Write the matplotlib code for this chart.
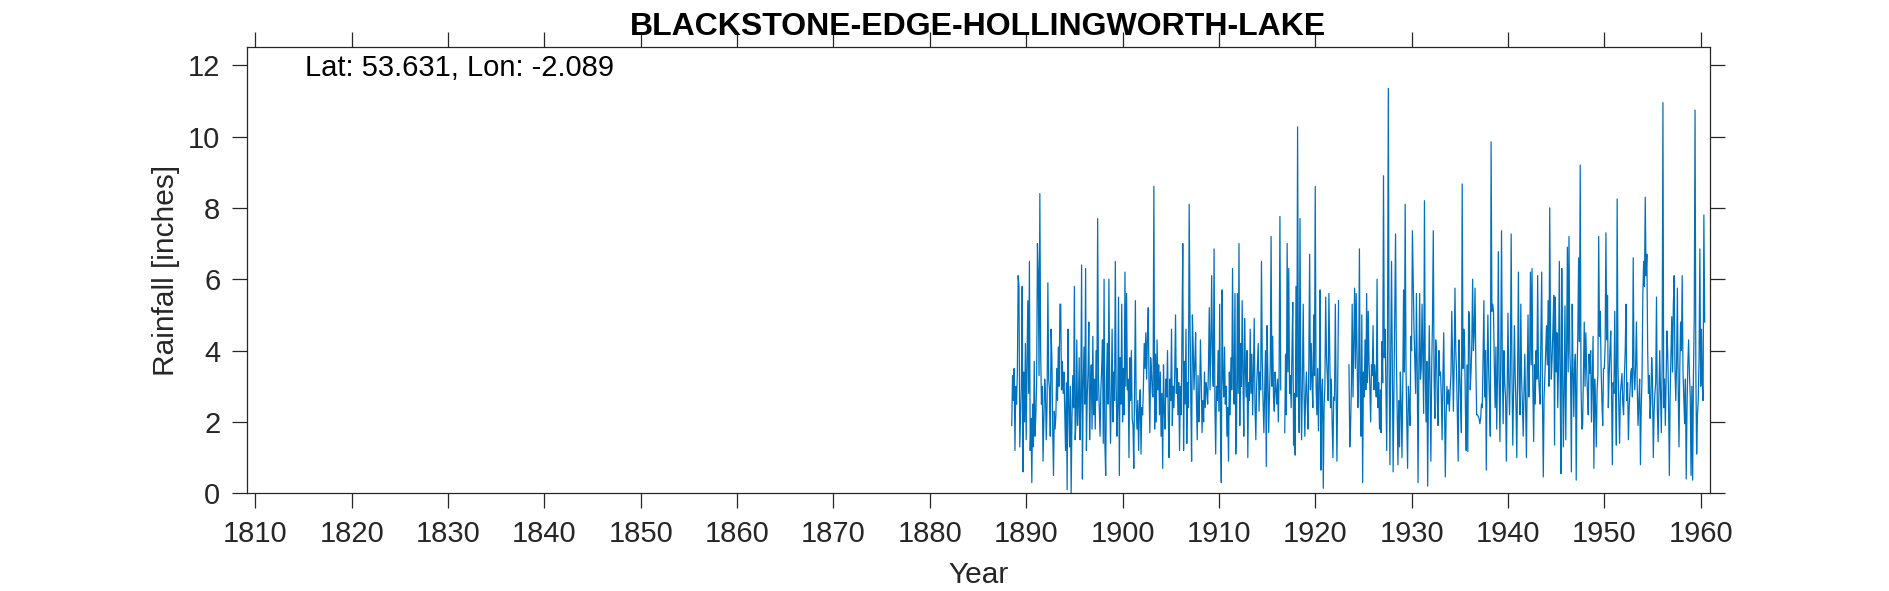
import numpy as np
import matplotlib
matplotlib.use("Agg")
import matplotlib.pyplot as plt

nan = np.nan

# monthly rainfall [inches], first value is July 1888
start_year = 1888
start_month = 7

rain_1888_1899 = [
    1.9, 3.3, 2.6, 3.5, 1.2, 3.0,
    2.5, 3.4, 6.1, 5.8, 1.3, 2.2, 3.0, 5.8, 0.6, 3.4, 2.0, 4.2,
    1.5, 3.6, 5.4, 2.8, 6.5, 1.2, 2.1, 0.3, 2.5, 1.3, 3.7, 1.6,
    2.2, 3.1, 7.0, 6.2, 3.3, 8.4, 4.0, 2.5, 3.0, 0.9, 2.1, 3.2,
    2.8, 1.5, 2.5, 5.9, 3.2, 2.9, 1.6, 4.6, 3.8, 1.8, 0.5, 2.3,
    1.8, 2.2, 3.5, 2.6, 4.1, 3.0, 5.3, 5.3, 2.9, 3.7, 2.8, 3.4,
    2.3, 1.2, 3.1, 0.1, 4.6, 2.5, 1.3, 3.0, 0.0, 2.1, 3.3, 2.4,
    5.8, 1.5, 2.0, 4.3, 1.9, 2.5, 3.8, 1.5, 2.6, 6.4, 0.4, 3.0,
    4.1, 2.5, 6.3, 1.2, 2.7, 3.4, 4.8, 1.5, 2.9, 3.6, 1.8, 4.4,
    2.2, 3.2, 1.8, 4.0, 2.6, 7.7, 3.2, 2.4, 1.6, 2.9, 3.5, 4.3,
    1.4, 6.0, 1.4, 0.5, 3.2, 4.2, 2.5, 6.0, 3.0, 1.4, 2.8, 4.6,
    2.0, 3.4, 2.6, 6.5, 3.1, 1.6, 2.4, 5.5, 0.5, 3.8, 2.5, 5.3,
]

rain_1900s = [
    2.0, 3.5, 2.2, 6.2, 3.0, 5.6, 2.9, 3.2, 1.0, 3.8, 2.6, 4.0,
    2.1, 1.9, 0.7, 3.0, 5.4, 2.4, 1.8, 2.6, 1.2, 2.4, 2.9, 1.1,
    2.4, 2.2, 3.0, 4.2, 3.5, 4.5, 3.2, 4.4, 5.2, 3.0, 1.7, 3.8,
    3.4, 2.8, 2.7, 8.6, 1.8, 3.9, 2.0, 4.3, 2.9, 3.6, 2.2, 3.4,
    1.6, 2.8, 0.7, 3.6, 2.3, 1.8, 3.2, 2.7, 4.0, 2.1, 1.0, 3.2,
    2.6, 4.6, 1.9, 3.0, 2.4, 3.4, 5.0, 2.8, 3.5, 2.2, 3.1, 1.2,
    3.0, 2.2, 4.4, 7.0, 1.2, 3.7, 2.5, 4.6, 1.4, 3.1, 2.4, 8.1,
    4.9, 2.6, 0.9, 5.0, 4.1, 2.9, 3.6, 4.5, 2.6, 1.5, 3.3, 2.0,
    2.7, 4.3, 3.2, 1.7, 2.6, 2.0, 3.4, 2.4, 3.1, 2.9, 2.5, 3.5,
    5.2, 2.9, 4.2, 6.1, 3.6, 3.0, 6.85, 2.5, 1.1, 3.0, 2.6, 4.0,
]

rain_1910s = [
    2.3, 5.3, 1.8, 0.3, 5.7, 3.3, 2.7, 4.1, 2.5, 3.0, 1.6, 2.4,
    0.9, 3.4, 2.2, 3.8, 2.9, 6.3, 3.2, 2.5, 5.6, 1.1, 1.9, 5.6,
    2.8, 7.0, 1.9, 4.2, 3.0, 5.4, 3.3, 1.6, 4.9, 3.5, 2.7, 4.0,
    1.0, 3.1, 2.6, 4.6, 2.8, 3.9, 2.2, 3.4, 4.9, 2.4, 1.5, 3.0,
    3.6, 4.2, 2.3, 3.4, 2.9, 6.5, 3.8, 2.6, 1.7, 2.9, 4.0, 0.75,
    4.7, 3.3, 1.7, 2.8, 3.6, 7.2, 3.0, 4.4, 2.7, 2.3, 3.4, 2.9,
    2.5, 3.2, 2.0, 3.4, 7.76, 2.9, nan, nan, nan, nan, 1.7, 3.9,
    2.2, 7.0, 3.4, 6.3, 2.8, 3.3, 2.4, 4.0, 5.35, 1.35, 2.8, 1.07,
    5.8, 2.7, 10.27, 3.4, 1.7, 7.7, 3.0, 1.5, 3.2, 5.3, 2.9, 1.6,
    2.8, 3.4, 2.5, 1.8, 3.7, 6.7, 2.9, 4.2, 3.1, 2.4, 5.0, 3.3,
]

rain_1920s = [
    8.6, 3.0, 2.2, 3.5, 1.75, 3.1, 5.7, 0.65, 2.7, 3.2, 0.14, 2.4,
    3.0, 5.5, 3.8, 3.3, 2.6, 5.6, 4.1, 2.4, 3.2, 2.0, 1.0, 2.7,
    2.6, 5.3, 2.8, 0.9, 3.1, 5.4, nan, nan, nan, nan, nan, nan,
    nan, nan, nan, nan, nan, nan, 3.6, 1.3, 1.9, 3.0, 5.3, 2.7,
    4.2, 5.75, 3.5, 5.6, 4.0, 2.4, 3.2, 6.85, 2.8, 1.6, 5.0, 0.3,
    3.4, 2.7, 4.3, 2.9, 5.6, 3.1, 5.1, 3.6, 3.0, 2.0, 3.6, 3.3,
    4.7, 2.9, 3.6, 3.2, 2.7, 6.0, 2.4, 3.1, 1.8, 2.9, 1.7, 4.25,
    3.1, 8.9, 3.8, 4.6, 3.0, 1.2, 4.4, 11.35, 3.5, 0.8, 3.9, 6.5,
    3.6, 0.6, 2.9, 5.3, 7.27, 3.9, 2.4, 0.8, 2.6, 1.3, 3.4, 2.5,
    1.0, 3.1, 5.7, 3.4, 8.1, 3.6, 2.0, 0.7, 3.0, 2.5, 1.9, 4.4,
]

rain_1930s = [
    4.0, 7.36, 6.05, 4.6, 3.7, 2.8, 5.6, 3.5, 0.3, 3.4, 5.6, 3.2,
    3.5, 5.3, 3.8, 2.24, 8.2, 3.4, 2.0, 3.7, 0.2, 2.9, 4.7, 3.0,
    0.9, 3.5, 4.8, 7.36, 3.2, 2.1, 4.3, 3.9, 2.6, 1.9, 4.0, 3.3,
    3.4, 2.7, 1.5, 3.3, 4.5, 2.6, 0.46, 2.2, 3.0, 2.5, 2.9, 2.3,
    2.9, 3.3, 5.1, 3.8, 2.3, 3.6, 5.75, 4.0, 3.4, 2.1, 0.9, 4.3,
    3.3, 2.6, 1.7, 8.67, 3.5, 4.6, 4.1, 2.4, 1.2, 3.6, 1.17, 5.1,
    5.0, 2.9, 3.4, 4.2, 6.0, 4.0, 4.5, 5.75, 3.6, 2.2, 2.2, 2.15,
    2.1, 1.95, 2.1, 2.5, 2.4, 3.8, 5.4, 2.7, 4.0, 0.65, 3.4, 5.0,
    3.4, 2.6, 1.6, 9.85, 5.1, 5.3, 5.1, 3.6, 2.4, 4.1, 1.8, 3.3,
    6.77, 3.2, 1.45, 3.8, 7.36, 3.5, 1.95, 4.0, 3.1, 2.7, 0.9, 2.8,
]

rain_1940s = [
    5.05, 3.1, 2.2, 3.6, 7.27, 3.3, 1.35, 2.9, 4.7, 3.3, 2.4, 1.0,
    3.4, 6.2, 3.0, 2.2, 5.3, 3.2, 2.5, 1.6, 2.9, 3.9, 2.4, 1.0,
    3.3, 5.0, 2.7, 3.7, 6.2, 3.6, 6.3, 3.0, 1.45, 3.6, 2.5, 4.0,
    3.2, 6.1, 3.4, 2.9, 2.5, 4.3, 6.2, 2.6, 0.46, 2.7, 3.3, 4.0,
    4.7, 3.6, 5.4, 3.0, 8.0, 4.4, 3.2, 3.8, 4.6, 5.55, 1.35, 5.5,
    3.4, 4.5, 2.4, 3.6, 6.5, 3.1, 0.55, 6.3, 3.5, 1.3, 2.9, 5.25,
    1.5, 3.9, 6.9, 3.4, 7.2, 4.0, 3.36, 0.6, 5.3, 3.5, 2.15, 3.6,
    3.9, 0.37, 3.2, 4.5, 6.6, 4.25, 9.2, 3.0, 1.8, 1.9, 3.4, 4.8,
    3.0, 4.5, 3.5, 2.8, 2.2, 3.9, 3.36, 4.0, 2.0, 3.2, 4.4, 0.7,
    3.2, 2.5, 1.3, 2.9, 3.3, 7.2, 4.4, 5.1, 3.5, 2.6, 1.9, 3.5,
]

rain_1950_1960 = [
    3.5, 4.1, 7.3, 4.3, 5.55, 2.4, 3.3, 4.0, 4.55, 2.9, 0.8, 3.1,
    2.8, 5.1, 3.0, 1.35, 8.25, 3.6, 2.5, 1.4, 2.8, 3.1, 3.36, 2.5,
    2.2, 3.3, 3.95, 5.3, 2.6, 3.1, 1.5, 2.4, 2.9, 3.4, 3.5, 2.7,
    6.6, 3.4, 2.9, 3.6, 4.8, 3.0, 1.9, 2.6, 3.2, 0.8, 2.4, 3.3,
    5.6, 6.5, 5.8, 8.3, 6.1, 6.7, 4.0, 2.8, 3.3, 2.1, 2.6, 3.8,
    3.2, 1.0, 2.3, 2.8, 3.1, 5.5, 2.4, 1.45, 2.7, 4.0, 2.9, 1.7,
    3.5, 10.95, 2.4, 3.2, 1.9, 3.3, 4.55, 3.9, 2.6, 0.5, 2.8, 3.9,
    4.95, 3.4, 5.3, 6.1, 3.5, 2.6, 3.6, 5.75, 3.0, 1.3, 3.5, 4.8,
    4.0, 6.1, 3.4, 2.7, 1.95, 3.2, 0.4, 2.4, 3.6, 4.3, 3.36, 2.7,
    0.5, 3.0, 0.37, 3.3, 4.9, 10.74, 3.4, 1.1, 2.2, 2.6, 3.8, 6.85,
    3.0, 4.6, 3.1, 2.6, 7.8, 4.8,
]

station = "BLACKSTONE-EDGE-HOLLINGWORTH-LAKE"
lat, lon = 53.631, -2.089

rain = np.array(rain_1888_1899 + rain_1900s + rain_1910s + rain_1920s
                + rain_1930s + rain_1940s + rain_1950_1960)
t = start_year + (start_month - 1 + np.arange(len(rain))) / 12.0

plt.rcParams['font.family'] = ['Liberation Sans', 'DejaVu Sans']
dark = '#262626'

fig = plt.figure(figsize=(18.9, 5.91), dpi=100)
ax = fig.add_axes([246.7 / 1890, 1 - 493.3 / 591, 1463.6 / 1890, 446.0 / 591])

ax.plot(t, rain, color='#0072BD', lw=0.9)

ax.set_xlim(1809.1, 1961.0)
ax.set_ylim(0, 12.5)
ax.set_xticks(np.arange(1810, 1961, 10))
ax.set_yticks(np.arange(0, 13, 2))

for s in ax.spines.values():
    s.set_color(dark)
    s.set_linewidth(0.9)
ax.tick_params(axis='both', which='both', direction='out', length=11, width=0.9,
               colors=dark, labelsize=21, top=True, right=True, pad=8)

ax.text(0.0398, 0.9536, f"Lat: {lat:.3f}, Lon: {lon:.3f}", transform=ax.transAxes,
        ha='left', va='center', fontsize=21, color='black')

fig.text(978.5 / 1890, 1 - 35 / 591, station, ha='center', va='baseline',
         fontsize=23, fontweight='bold', color='black')
fig.text(978.5 / 1890, 1 - 583 / 591, "Year", ha='center', va='baseline',
         fontsize=21.5, color=dark)
fig.text(166 / 1890, 1 - 270.3 / 591, "Rainfall [inches]", ha='center', va='center',
         rotation=90, fontsize=21.5, color=dark)

fig.savefig('out.png', dpi=100)
